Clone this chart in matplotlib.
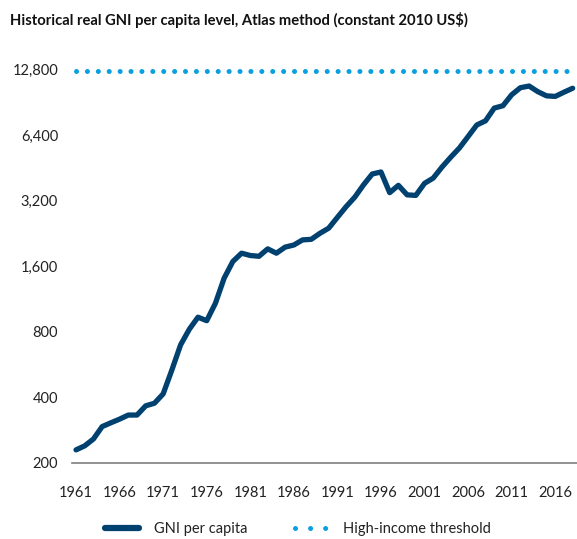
import matplotlib
matplotlib.use('Agg')
import matplotlib.pyplot as plt
from matplotlib.lines import Line2D

### Data
years = list(range(1961, 2019))
gni = [229, 239, 257, 293, 305, 317, 331, 331, 365, 375,
       414, 533, 695, 820, 932, 898, 1080, 1408, 1680, 1834,
       1790, 1775, 1920, 1834, 1956, 2000, 2111, 2124, 2264, 2390,
       2680, 3000, 3320, 3780, 4240, 4330, 3480, 3760, 3400, 3380,
       3840, 4060, 4560, 5060, 5580, 6300, 7120, 7440, 8510, 8730,
       9800, 10560, 10750, 10130, 9690, 9630, 10070, 10500]
threshold = 12600
y_ticks = [200, 400, 800, 1600, 3200, 6400, 12800]
x_ticks = list(range(1961, 2017, 5))

navy = '#00416f'
cyan = '#0a9fdf'

plt.rcParams['font.family'] = ['Lato', 'DejaVu Sans']

fig = plt.figure(figsize=(5.77, 5.39), dpi=100)
ax = fig.add_axes([0.1248, 0.1416, 0.8752, 0.7294])

ax.plot(years, gni, color=navy, lw=3.8, solid_capstyle='round', solid_joinstyle='round')
ax.plot([1961, 2018.5], [threshold, threshold], color=cyan, lw=3.6,
        linestyle=(0, (0.01, 2.17)), dash_capstyle='round', clip_on=False)

ax.set_yscale('log', base=2)
ax.set_ylim(200, 12800)
ax.set_xlim(1960.54, 2018.5)
ax.set_yticks(y_ticks)
ax.set_yticklabels([f'{v:,}' for v in y_ticks])
ax.minorticks_off()
ax.set_xticks(x_ticks)
ax.set_xticklabels([str(y) for y in x_ticks])
ax.tick_params(axis='y', length=0, pad=10, labelsize=10.5, colors='#222222')
ax.tick_params(axis='x', length=0, pad=17, labelsize=10.5, colors='#222222')

for side in ['top', 'right', 'left']:
    ax.spines[side].set_visible(False)
ax.spines['bottom'].set_color('#7f7f7f')
ax.spines['bottom'].set_linewidth(1.2)

fig.text(0.0173, 0.963, 'Historical real GNI per capita level, Atlas method (constant 2010 US$)',
         fontsize=10.6, fontweight='bold', va='center', ha='left', color='#111111')

# legend: dots handle gets a wider gap so only three dots show
handles = [Line2D([], [], color=navy, lw=4.5, solid_capstyle='round'),
           Line2D([], [], color=cyan, lw=3.6, linestyle=(0, (0.01, 3.0)), dash_capstyle='round')]
fig.legend(handles, ['GNI per capita', 'High-income threshold'], loc='center',
           bbox_to_anchor=(0.517, 0.018), ncol=2, frameon=False, fontsize=10.5,
           handlelength=2.3, columnspacing=3.3, handletextpad=1.0, labelcolor='#222222')

fig.savefig('out.png', dpi=100)
